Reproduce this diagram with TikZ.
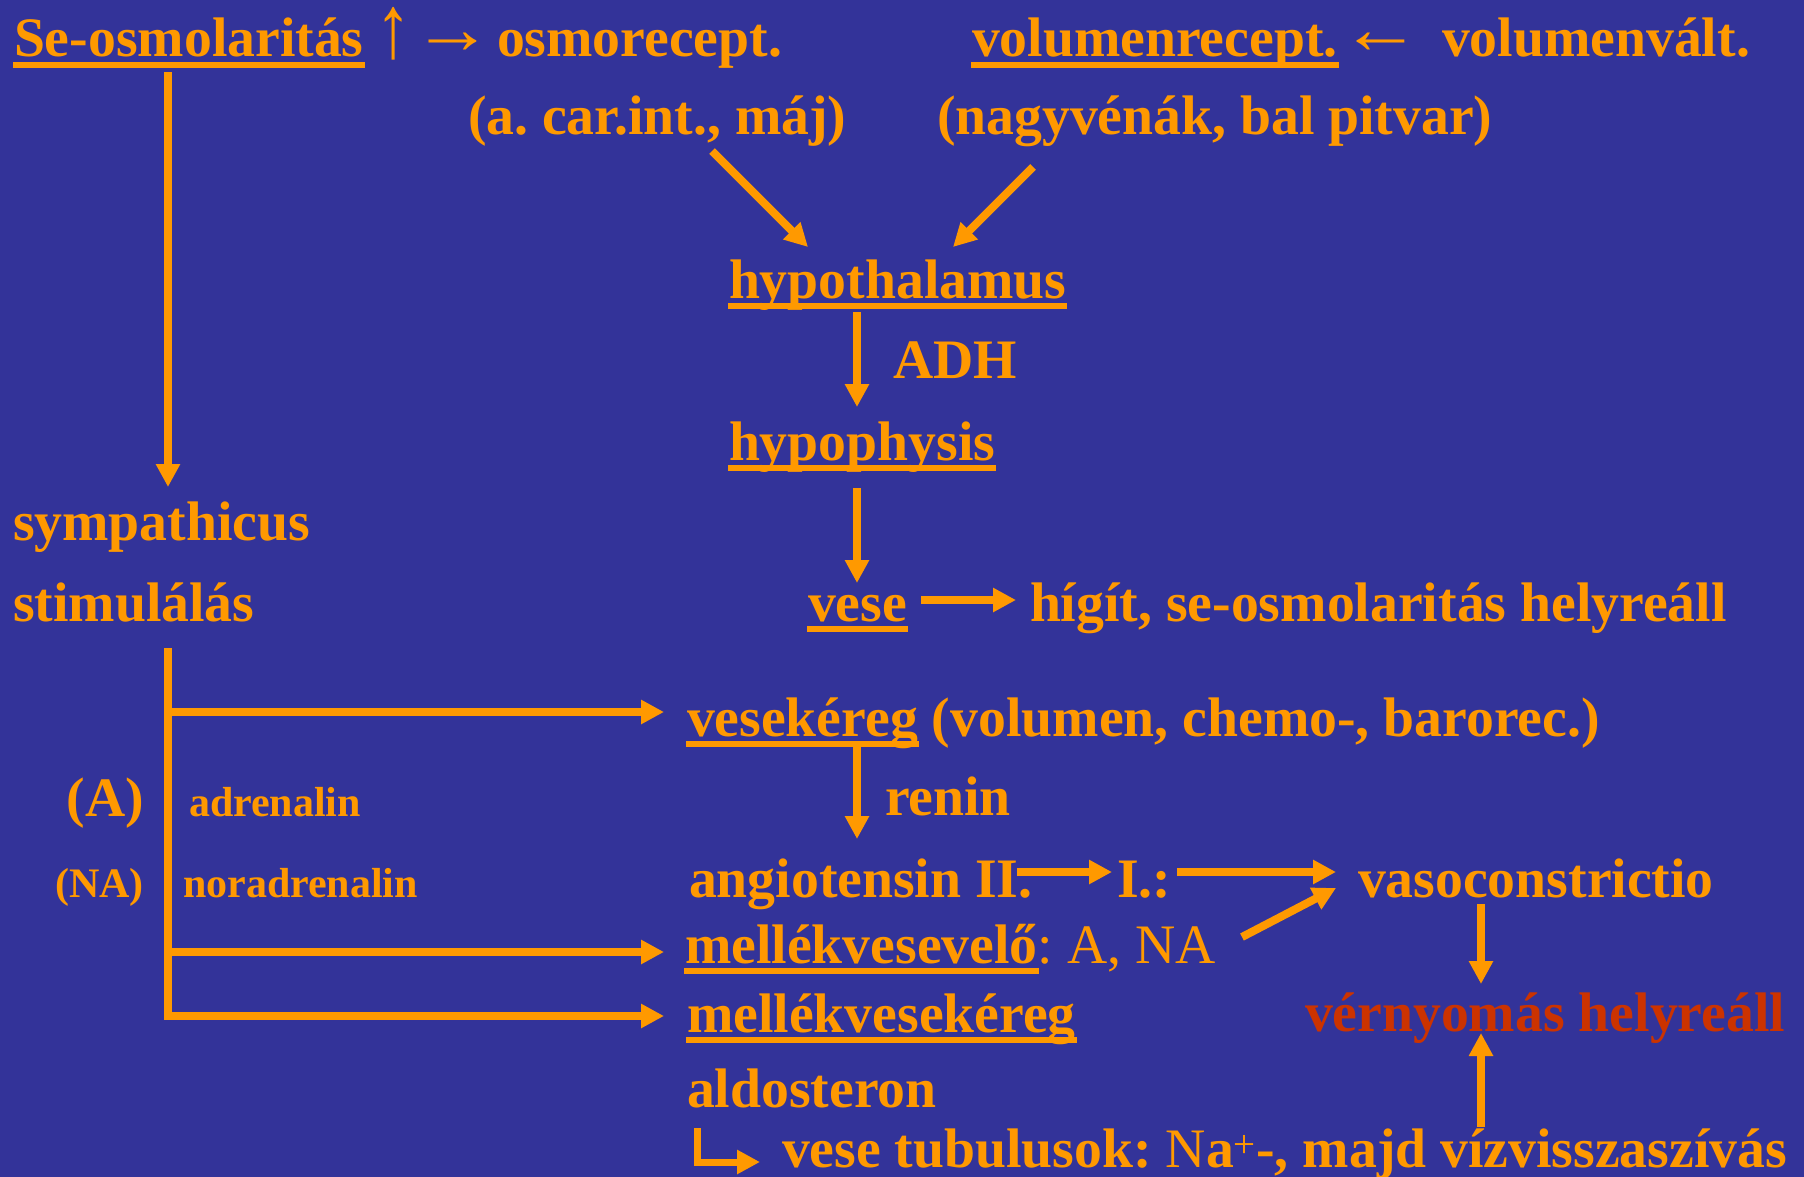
\documentclass[tikz,border=0pt]{standalone}
\usepackage{fontspec}
\setmainfont{Liberation Serif}
\usetikzlibrary{arrows.meta}
\definecolor{bgblue}{RGB}{51,51,153}
\definecolor{orng}{RGB}{255,153,0}
\definecolor{redt}{RGB}{204,51,0}
\newcommand\fL{\fontsize{55.7}{60}\selectfont}
\newcommand\fS{\fontsize{42}{46}\selectfont}
\frenchspacing
\tikzset{
  txt/.style={anchor=base west, inner sep=0pt, outer sep=0pt, text=orng, font=\fL\bfseries},
  sml/.style={txt, font=\fS\bfseries},
  plain/.style={txt, font=\fL\mdseries},
  glyph/.style={anchor=center, inner sep=0pt, outer sep=0pt, text=orng, font=\fL\mdseries},
  arr/.style={draw=orng, line width=8pt, -{Triangle[width=23pt,length=23pt]}},
  hookarr/.style={draw=orng, line width=7pt, -{Triangle[width=23pt,length=23pt]}},
  uline/.style={draw=orng, line width=5.5pt},
}
\newcommand\ulin[1]{\draw[uline] ([shift={(-1pt,-8pt)}]#1.base west) -- ([shift={(1pt,-8pt)}]#1.base east);}
\begin{document}
\begin{tikzpicture}[x=1pt,y=-1pt]
\fill[bgblue] (0,0) rectangle (1804,1177);
\useasboundingbox (0,0) rectangle (1804,1177);
% row 1
\node[txt] (seo) at (14,57) {Se-osmolaritás};
\node[glyph] (up) at (394,34) {\scalebox{1.3}[1.6]{↑}};
\node[glyph] (ra) at (453,43) {\scalebox{1.45}[1.3]{→}};
\node[txt] (osmo) at (497,57) {osmorecept.};
\node[txt] (volr) at (972,57) {volumenrecept.};
\node[glyph] (la) at (1381,43) {\scalebox{1.45}[1.3]{←}};
\node[txt] (volv) at (1442,57) {volumenvált.};
% row 2
\node[txt] (acar) at (468,135) {(a. car.int., máj)};
\node[txt] (nagy) at (937,135) {(nagyvénák, bal pitvar)};
% centre column
\node[txt] (hth) at (729,298) {hypothalamus};
\node[txt] (adh) at (893,378) {ADH};
\node[txt] (hph) at (729,460) {hypophysis};
\node[txt] (symp) at (13,540) {sympathicus};
\node[txt] (stim) at (13,621) {stimulálás};
\node[txt] (vese) at (808,621) {vese};
\node[txt] (higit) at (1030,621) {hígít, se-osmolaritás helyreáll};
\node[txt] (vk) at (687,736) {vesekéreg};
\node[txt] (vkr) at ([xshift=14pt]vk.base east) {(volumen, chemo-, barorec.)};
\node[txt] (renin) at (885,815) {renin};
\node[txt, anchor=base east] (aA) at (144,816) {(A)};
\node[sml] (adr) at (189,816) {adrenalin};
\node[sml, anchor=base east] (aNA) at (144,897) {(NA)};
\node[sml] (nadr) at (183,897) {noradrenalin};
\node[txt] (ang) at (689,897) {angiotensin II.};
\node[txt] (ang1) at (1117,897) {I.:};
\node[txt] (vaso) at (1358,897) {vasoconstrictio};
\node[txt] (mvv) at (685,963) {mellékvesevelő};
\node[plain] (mvvr) at (mvv.base east) {: A, NA};
\node[txt] (mvk) at (687,1032) {mellékvesekéreg};
\node[txt, text=redt] (vny) at (1305,1031) {vérnyomás helyreáll};
\node[txt] (aldo) at (687,1107) {aldosteron};
\node[txt] (tub) at (782,1167) {vese tubulusok: {\mdseries N}a\textsuperscript{\mdseries +}-, majd vízvisszaszívás};
% underlines
\ulin{seo}\ulin{volr}\ulin{hth}\ulin{hph}\ulin{vese}\ulin{vk}\ulin{mvv}\ulin{mvk}
% connector end points
\coordinate (seoOut) at (168,72);   \coordinate (sympIn) at (168,487);
\coordinate (acarOut) at (712,151); \coordinate (hthInL) at (808,247);
\coordinate (nagyOut) at (1033,167);\coordinate (hthInR) at (953,247);
\coordinate (hthOut) at (857,312);  \coordinate (hphIn) at (857,407);
\coordinate (hphOut) at (857,488);  \coordinate (veseIn) at (857,583);
\coordinate (veseOut) at (921,600); \coordinate (higitIn) at (1016,600);
\coordinate (vkOut) at (857,747);   \coordinate (angIn) at (857,839);
\coordinate (angOut) at (1017,872); \coordinate (ang1In) at (1112,872);
\coordinate (ang1Out) at (1177,872);\coordinate (vasoIn) at (1336,872);
\coordinate (mvvOut) at (1242,937); \coordinate (vasoIn2) at (1336,888);
\coordinate (vasoOut) at (1481,904);\coordinate (vnyIn) at (1481,984);
\coordinate (tubOut) at (1481,1127);\coordinate (vnyIn2) at (1481,1033);
\coordinate (trTop) at (168,648);   \coordinate (trBot) at (168,1016);
\coordinate (br1) at (168,712);     \coordinate (vkIn) at (664,712);
\coordinate (br2) at (168,952);     \coordinate (mvvIn) at (664,952);
\coordinate (mvkIn) at (664,1016);
\coordinate (hkTop) at (697,1128);  \coordinate (hkCorner) at (697,1162);
\coordinate (tubIn) at (760,1162);
% connectors
\draw[arr] (seoOut) -- (sympIn);
\draw[arr] (acarOut) -- (hthInL);
\draw[arr] (nagyOut) -- (hthInR);
\draw[arr] (hthOut) -- (hphIn);
\draw[arr] (hphOut) -- (veseIn);
\draw[arr] (veseOut) -- (higitIn);
\draw[arr] (vkOut) -- (angIn);
\draw[arr] (angOut) -- (ang1In);
\draw[arr] (ang1Out) -- (vasoIn);
\draw[arr] (mvvOut) -- (vasoIn2);
\draw[arr] (vasoOut) -- (vnyIn);
\draw[arr] (tubOut) -- (vnyIn2);
\draw[arr, line join=miter] (trTop) -- (trBot) -- (mvkIn);
\draw[arr] (br1) -- (vkIn);
\draw[arr] (br2) -- (mvvIn);
\draw[hookarr, line join=miter] (hkTop) -- (hkCorner) -- (tubIn);
\end{tikzpicture}
\end{document}
